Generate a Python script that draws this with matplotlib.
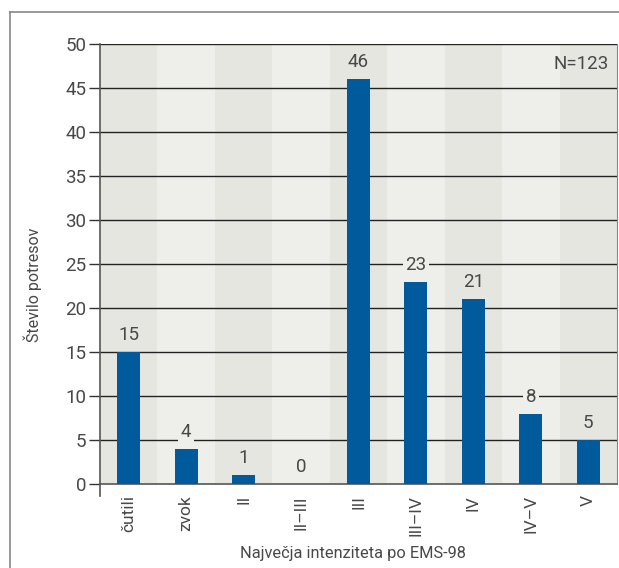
import matplotlib
matplotlib.use("Agg")
import matplotlib.pyplot as plt
from matplotlib.lines import Line2D

categories = ["čutili", "zvok", "II", "II–III", "III", "III–IV", "IV", "IV–V", "V"]
values = [15, 4, 1, 0, 46, 23, 21, 8, 5]
yticks = [0, 5, 10, 15, 20, 25, 30, 35, 40, 45, 50]

plt.rcParams['font.family'] = ['Roboto', 'DejaVu Sans']
txt = '#484848'

fig = plt.figure(figsize=(6.19, 5.68), dpi=100)
ax = fig.add_axes([100/619, 84/568, 517/619, 440/568])

bg_dark = '#e6e6e1'
bg_light = '#eeeeea'
for i in range(len(categories)):
    ax.axvspan(i - 0.5, i + 0.5, color=bg_dark if i % 2 == 0 else bg_light, lw=0, zorder=0)

for y in yticks[1:]:
    ax.axhline(y, color='#222222', lw=1.0, zorder=1)

x = list(range(len(categories)))
ax.bar(x, values, width=0.4, color='#005a9c', zorder=3)

for i, v in enumerate(values):
    bg = bg_dark if i % 2 == 0 else bg_light
    ax.text(i, v + 0.9, str(v), ha='center', va='bottom', fontsize=13.5, color=txt, zorder=4,
            bbox=dict(facecolor=bg, edgecolor='none', pad=2))

ax.set_xlim(-0.5, len(categories) - 0.5)
ax.set_ylim(0, 50)
ax.set_yticks(yticks)
ax.set_xticks(x)
ax.set_xticklabels(categories, rotation=90, fontsize=12.5, color=txt)
ax.tick_params(axis='y', labelsize=13.5, labelcolor=txt, length=8, width=1, color='#333333', pad=2)
ax.tick_params(axis='x', length=0, pad=8)

ax.spines['top'].set_visible(False)
ax.spines['left'].set_color('#555555')
ax.spines['bottom'].set_color('#555555')
ax.spines['right'].set_color('#888888')
ax.spines['left'].set_linewidth(1.2)
ax.spines['bottom'].set_linewidth(1.2)
ax.spines['left'].set_bounds(-1.4, 50)

ax.set_ylabel("Število potresov", fontsize=11.5, color=txt)
ax.yaxis.set_label_coords(-58/517, 0.452)
ax.set_xlabel("Največja intenziteta po EMS-98", fontsize=11.8, color=txt)
ax.xaxis.set_label_coords(0.49, -62/440)
ax.xaxis.label.set_va('top')

ax.text(0.985, 0.975, "N=123", transform=ax.transAxes, ha='right', va='top', fontsize=13.5,
        color=txt, zorder=5)

# outer frame (cropped)
fig.add_artist(Line2D([10/619, 1.0], [1 - 12/568, 1 - 12/568], transform=fig.transFigure, color='#888888', lw=1.2))
fig.add_artist(Line2D([10/619, 10/619], [0, 1 - 12/568], transform=fig.transFigure, color='#888888', lw=1.2))

fig.savefig("out.png", dpi=100)
